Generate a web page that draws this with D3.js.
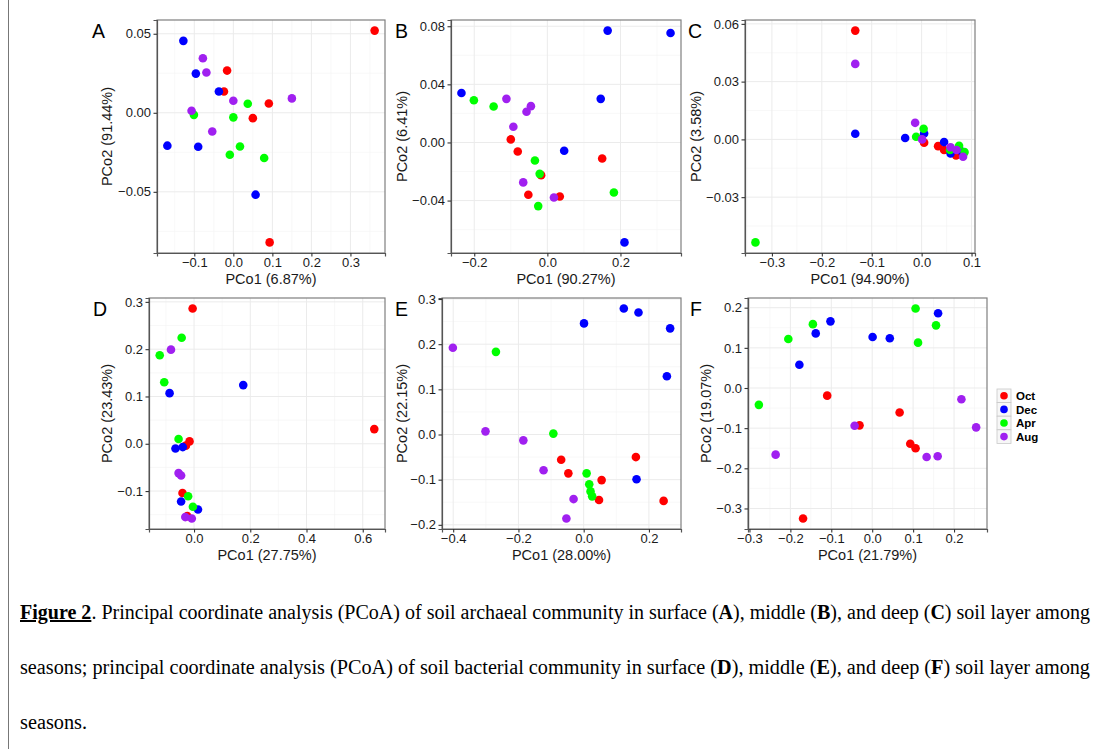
<!DOCTYPE html>
<html>
<head>
<meta charset="utf-8">
<script src="https://cdn.jsdelivr.net/npm/d3@7"></script>
<style>
  body { margin: 0; background: #fff; }
  svg { display: block; }
</style>
</head>
<body>
<div id="chart"></div>
<script>
const seasons = ["Oct", "Dec", "Apr", "Aug"];
const seasonColors = ["#ff0000", "#0000ff", "#00ff00", "#a020f0"];

// [season, PCo1, PCo2]
const pcoaA = [
  ["Oct", 0.362, 0.052], ["Oct", -0.016, 0.0267], ["Oct", -0.024, 0.0135],
  ["Oct", 0.091, 0.0059], ["Oct", 0.050, -0.0034], ["Oct", 0.093, -0.082],
  ["Dec", -0.128, 0.0455], ["Dec", -0.096, 0.0248], ["Dec", -0.037, 0.0135],
  ["Dec", -0.169, -0.0208], ["Dec", -0.090, -0.0215], ["Dec", 0.057, -0.0518],
  ["Apr", 0.037, 0.0057], ["Apr", -0.101, -0.0013], ["Apr", 0.000, -0.0029],
  ["Apr", 0.017, -0.0213], ["Apr", -0.009, -0.0265], ["Apr", 0.079, -0.0286],
  ["Aug", -0.078, 0.0345], ["Aug", -0.069, 0.0255], ["Aug", 0.000, 0.0076],
  ["Aug", -0.107, 0.0013], ["Aug", -0.054, -0.0118], ["Aug", 0.150, 0.0091]
];
const pcoaB = [
  ["Oct", -0.100, 0.0021], ["Oct", -0.081, -0.0062], ["Oct", -0.017, -0.0225],
  ["Oct", -0.052, -0.036], ["Oct", 0.034, -0.0372], ["Oct", 0.150, -0.011],
  ["Dec", 0.165, 0.077], ["Dec", 0.337, 0.0753], ["Dec", -0.235, 0.034],
  ["Dec", 0.146, 0.030], ["Dec", 0.046, -0.0057], ["Dec", 0.211, -0.0688],
  ["Apr", -0.201, 0.0291], ["Apr", -0.147, 0.0248], ["Apr", -0.034, -0.0124],
  ["Apr", -0.021, -0.0216], ["Apr", -0.025, -0.0438], ["Apr", 0.182, -0.0344],
  ["Aug", -0.112, 0.030], ["Aug", -0.045, 0.025], ["Aug", -0.057, 0.0211],
  ["Aug", -0.093, 0.0108], ["Aug", -0.066, -0.0275], ["Aug", 0.018, -0.0379]
];
const pcoaC = [
  ["Oct", -0.133, 0.0565], ["Oct", 0.005, -0.0017], ["Oct", 0.033, -0.0035],
  ["Oct", 0.045, -0.0055], ["Oct", 0.069, -0.0083],
  ["Dec", -0.133, 0.0029], ["Dec", -0.033, 0.0007], ["Dec", 0.005, 0.0031],
  ["Dec", 0.045, -0.0014], ["Dec", 0.058, -0.0073], ["Dec", 0.078, -0.0059],
  ["Apr", -0.333, -0.0535], ["Apr", -0.011, 0.0014], ["Apr", 0.004, 0.0055],
  ["Apr", 0.075, -0.0033], ["Apr", 0.086, -0.0066], ["Apr", 0.057, -0.0055],
  ["Aug", -0.133, 0.0392], ["Aug", -0.013, 0.0086], ["Aug", 0.001, 0.0],
  ["Aug", 0.058, -0.0041], ["Aug", 0.070, -0.0055], ["Aug", 0.083, -0.009]
];
const pcoaD = [
  ["Oct", -0.005, 0.286], ["Oct", 0.641, 0.031], ["Oct", -0.016, 0.005],
  ["Oct", -0.029, -0.004], ["Oct", -0.041, -0.104], ["Oct", -0.024, -0.153],
  ["Dec", -0.087, 0.107], ["Dec", 0.175, 0.124], ["Dec", -0.066, -0.010],
  ["Dec", -0.040, -0.007], ["Dec", -0.046, -0.122], ["Dec", 0.014, -0.139],
  ["Apr", -0.044, 0.224], ["Apr", -0.122, 0.187], ["Apr", -0.106, 0.130],
  ["Apr", -0.055, 0.010], ["Apr", -0.021, -0.111], ["Apr", -0.004, -0.133],
  ["Aug", -0.082, 0.199], ["Aug", -0.055, -0.062], ["Aug", -0.046, -0.067],
  ["Aug", -0.031, -0.155], ["Aug", -0.008, -0.158]
];
const pcoaE = [
  ["Oct", -0.069, -0.056], ["Oct", -0.047, -0.086], ["Oct", 0.055, -0.101],
  ["Oct", 0.047, -0.145], ["Oct", 0.160, -0.050], ["Oct", 0.245, -0.147],
  ["Dec", 0.001, 0.246], ["Dec", 0.123, 0.279], ["Dec", 0.168, 0.270],
  ["Dec", 0.265, 0.235], ["Dec", 0.255, 0.129], ["Dec", 0.162, -0.099],
  ["Apr", -0.269, 0.183], ["Apr", -0.093, 0.002], ["Apr", 0.009, -0.086],
  ["Apr", 0.017, -0.110], ["Apr", 0.021, -0.126], ["Apr", 0.026, -0.137],
  ["Aug", -0.401, 0.192], ["Aug", -0.301, 0.007], ["Aug", -0.185, -0.013],
  ["Aug", -0.123, -0.079], ["Aug", -0.031, -0.143], ["Aug", -0.053, -0.186]
];
const pcoaF = [
  ["Oct", -0.110, -0.019], ["Oct", 0.067, -0.061], ["Oct", -0.031, -0.093],
  ["Oct", 0.093, -0.139], ["Oct", 0.106, -0.150], ["Oct", -0.169, -0.325],
  ["Dec", 0.161, 0.186], ["Dec", -0.102, 0.166], ["Dec", -0.138, 0.136],
  ["Dec", 0.001, 0.127], ["Dec", 0.043, 0.124], ["Dec", -0.178, 0.058],
  ["Apr", 0.106, 0.198], ["Apr", 0.156, 0.156], ["Apr", 0.112, 0.113],
  ["Apr", -0.145, 0.159], ["Apr", -0.205, 0.122], ["Apr", -0.277, -0.042],
  ["Aug", 0.218, -0.028], ["Aug", 0.254, -0.098], ["Aug", -0.043, -0.094],
  ["Aug", -0.236, -0.166], ["Aug", 0.133, -0.172], ["Aug", 0.160, -0.170]
];

const panelLetters = ["A", "B", "C", "D", "E", "F"];
const xTitles = ["PCo1 (6.87%)", "PCo1 (90.27%)", "PCo1 (94.90%)",
                 "PCo1 (27.75%)", "PCo1 (28.00%)", "PCo1 (21.79%)"];
const yTitles = ["PCo2 (91.44%)", "PCo2 (6.41%)", "PCo2 (3.58%)",
                 "PCo2 (23.43%)", "PCo2 (22.15%)", "PCo2 (19.07%)"];
const xTicks = [
  [-0.1, 0, 0.1, 0.2, 0.3],
  [-0.2, 0, 0.2],
  [-0.3, -0.2, -0.1, 0, 0.1],
  [0, 0.2, 0.4, 0.6],
  [-0.4, -0.2, 0, 0.2],
  [-0.3, -0.2, -0.1, 0, 0.1, 0.2]
];
const yTicks = [
  [-0.05, 0, 0.05],
  [-0.04, 0, 0.04, 0.08],
  [-0.03, 0, 0.03, 0.06],
  [-0.1, 0, 0.1, 0.2, 0.3],
  [-0.2, -0.1, 0, 0.1, 0.2, 0.3],
  [-0.3, -0.2, -0.1, 0, 0.1, 0.2]
];
const yDecimals = [2, 2, 2, 1, 1, 1];

const panels = [pcoaA, pcoaB, pcoaC, pcoaD, pcoaE, pcoaF];

// panel rectangles in page pixels
const boxes = [
  { x0: 157, x1: 385, y0: 20, y1: 253, letterX: 92, yTitleX: 107 },
  { x0: 451, x1: 681, y0: 20, y1: 253, letterX: 395, yTitleX: 402 },
  { x0: 745, x1: 975, y0: 20, y1: 253, letterX: 688, yTitleX: 696 },
  { x0: 149, x1: 385, y0: 298, y1: 529, letterX: 93, yTitleX: 107 },
  { x0: 442, x1: 681, y0: 298, y1: 529, letterX: 395, yTitleX: 402 },
  { x0: 748, x1: 987, y0: 298, y1: 529, letterX: 690, yTitleX: 706 }
];

const width = 1105, height = 749;
const svg = d3.select("#chart")
  .append("svg")
  .attr("width", width)
  .attr("height", height)
  .style("font-family", "'Liberation Sans', Arial, sans-serif");

const color = d3.scaleOrdinal().domain(seasons).range(seasonColors);
const fmtMinus = s => s.replace("-", "\u2212");

// frame line on the left of the page
svg.append("line")
  .attr("x1", 8.5).attr("x2", 8.5)
  .attr("y1", 0).attr("y2", height)
  .attr("stroke", "#777").attr("stroke-width", 1);

// ggplot-style 5% expansion around data extent
function expanded(vals) {
  const [lo, hi] = d3.extent(vals);
  const pad = (hi - lo) * 0.05;
  return [lo - pad, hi + pad];
}

function midpoints(ticks, domain) {
  const step = ticks[1] - ticks[0];
  const out = [];
  for (let i = -1; i < ticks.length; i++) {
    const v = (i < 0 ? ticks[0] - step : ticks[i]) + step / 2;
    if (v > domain[0] && v < domain[1]) out.push(v);
  }
  return out;
}

panels.forEach((pts, p) => {
  const b = boxes[p];
  const x = d3.scaleLinear().domain(expanded(pts.map(d => d[1]))).range([b.x0, b.x1]);
  const y = d3.scaleLinear().domain(expanded(pts.map(d => d[2]))).range([b.y1, b.y0]);
  const g = svg.append("g");

  g.append("rect")
    .attr("x", b.x0).attr("y", b.y0)
    .attr("width", b.x1 - b.x0).attr("height", b.y1 - b.y0)
    .attr("fill", "#fff");

  // minor grid
  g.selectAll(".gxm").data(midpoints(xTicks[p], x.domain())).enter()
    .append("line")
    .attr("x1", d => x(d)).attr("x2", d => x(d))
    .attr("y1", b.y0).attr("y2", b.y1)
    .attr("stroke", "#f4f4f4").attr("stroke-width", 0.6);
  g.selectAll(".gym").data(midpoints(yTicks[p], y.domain())).enter()
    .append("line")
    .attr("x1", b.x0).attr("x2", b.x1)
    .attr("y1", d => y(d)).attr("y2", d => y(d))
    .attr("stroke", "#f4f4f4").attr("stroke-width", 0.6);
  // major grid
  g.selectAll(".gx").data(xTicks[p]).enter()
    .append("line")
    .attr("x1", d => x(d)).attr("x2", d => x(d))
    .attr("y1", b.y0).attr("y2", b.y1)
    .attr("stroke", "#ebebeb").attr("stroke-width", 1);
  g.selectAll(".gy").data(yTicks[p]).enter()
    .append("line")
    .attr("x1", b.x0).attr("x2", b.x1)
    .attr("y1", d => y(d)).attr("y2", d => y(d))
    .attr("stroke", "#ebebeb").attr("stroke-width", 1);

  // points
  g.selectAll("circle").data(pts).enter()
    .append("circle")
    .attr("cx", d => x(d[1]))
    .attr("cy", d => y(d[2]))
    .attr("r", 4.3)
    .attr("fill", d => color(d[0]));

  // panel border
  g.append("rect")
    .attr("x", b.x0).attr("y", b.y0)
    .attr("width", b.x1 - b.x0).attr("height", b.y1 - b.y0)
    .attr("fill", "none").attr("stroke", "#7f7f7f").attr("stroke-width", 1.2);

  // axes
  const xAxis = d3.axisBottom(x).tickValues(xTicks[p])
    .tickFormat(d => fmtMinus(d3.format(".1f")(d)))
    .tickSize(3.5).tickPadding(1.3);
  const yAxis = d3.axisLeft(y).tickValues(yTicks[p])
    .tickFormat(d => fmtMinus(d3.format("." + yDecimals[p] + "f")(d)))
    .tickSize(3.5).tickPadding(2.5);

  const gx = g.append("g").attr("transform", `translate(0,${b.y1})`).call(xAxis);
  const gy = g.append("g").attr("transform", `translate(${b.x0},0)`).call(yAxis);
  [gx, gy].forEach(a => {
    a.attr("font-size", null).attr("font-family", null);
    a.select(".domain").attr("stroke", "#555").attr("stroke-width", 1.2);
    a.selectAll(".tick line").attr("stroke", "#333").attr("stroke-width", 1.1);
    a.selectAll(".tick text")
      .attr("fill", "#1a1a1a")
      .style("font-family", "'Liberation Sans', Arial, sans-serif")
      .style("font-size", "13px");
  });

  // titles
  g.append("text")
    .attr("x", (b.x0 + b.x1) / 2)
    .attr("y", b.y1 + 31)
    .attr("text-anchor", "middle")
    .attr("fill", "#1a1a1a")
    .style("font-size", "14.5px")
    .text(xTitles[p]);
  g.append("text")
    .attr("transform", `translate(${b.yTitleX},${(b.y0 + b.y1) / 2}) rotate(-90)`)
    .attr("text-anchor", "middle")
    .attr("dominant-baseline", "central")
    .attr("fill", "#1a1a1a")
    .style("font-size", "14.5px")
    .text(yTitles[p]);

  g.append("text")
    .attr("x", b.letterX)
    .attr("y", b.y0 + 18)
    .attr("fill", "#000")
    .style("font-size", "19.5px")
    .text(panelLetters[p]);
});

// legend
const legend = svg.append("g").attr("transform", "translate(997,389)");
seasons.forEach((s, i) => {
  const row = legend.append("g").attr("transform", `translate(0,${i * 13.6})`);
  row.append("rect")
    .attr("width", 14).attr("height", 13.6)
    .attr("fill", "#f7f7f7").attr("stroke", "#c8c8c8").attr("stroke-width", 0.8);
  row.append("circle")
    .attr("cx", 7).attr("cy", 6.8).attr("r", 3.8)
    .attr("fill", color(s));
  row.append("text")
    .attr("x", 19).attr("y", 11)
    .style("font-size", "11.5px")
    .style("font-weight", "bold")
    .attr("fill", "#000")
    .text(s);
});

// caption
const capFont = "'Liberation Serif', 'Times New Roman', serif";
const cap1 = svg.append("text")
  .attr("x", 20).attr("y", 619)
  .attr("textLength", 1070).attr("lengthAdjust", "spacingAndGlyphs")
  .style("font-family", capFont).style("font-size", "20px");
cap1.append("tspan").style("font-weight", "bold").style("text-decoration", "underline").text("Figure 2");
cap1.append("tspan").text(". Principal coordinate analysis (PCoA) of soil archaeal community in surface (");
cap1.append("tspan").style("font-weight", "bold").text("A");
cap1.append("tspan").text("), middle (");
cap1.append("tspan").style("font-weight", "bold").text("B");
cap1.append("tspan").text("), and deep (");
cap1.append("tspan").style("font-weight", "bold").text("C");
cap1.append("tspan").text(") soil layer among");

const cap2 = svg.append("text")
  .attr("x", 20).attr("y", 674)
  .attr("textLength", 1070).attr("lengthAdjust", "spacingAndGlyphs")
  .style("font-family", capFont).style("font-size", "20px");
cap2.append("tspan").text("seasons; principal coordinate analysis (PCoA) of soil bacterial community in surface (");
cap2.append("tspan").style("font-weight", "bold").text("D");
cap2.append("tspan").text("), middle (");
cap2.append("tspan").style("font-weight", "bold").text("E");
cap2.append("tspan").text("), and deep (");
cap2.append("tspan").style("font-weight", "bold").text("F");
cap2.append("tspan").text(") soil layer among");

svg.append("text")
  .attr("x", 20).attr("y", 729)
  .attr("textLength", 67).attr("lengthAdjust", "spacingAndGlyphs")
  .style("font-family", capFont).style("font-size", "20px")
  .text("seasons.");
</script>
</body>
</html>
